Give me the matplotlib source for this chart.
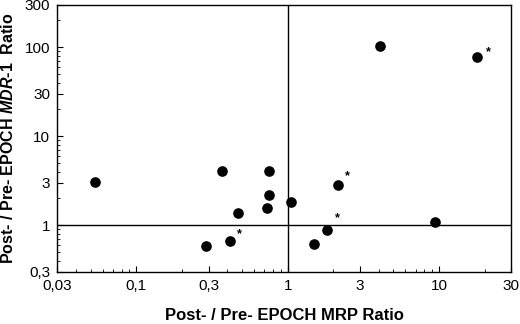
import matplotlib
matplotlib.use("Agg")
import matplotlib.pyplot as plt
from matplotlib.ticker import FixedLocator, LogLocator, NullFormatter

plt.rcParams['font.family'] = ['Liberation Sans', 'DejaVu Sans']
plt.rcParams['mathtext.fontset'] = 'custom'
plt.rcParams['mathtext.it'] = 'Liberation Sans:italic:bold'
plt.rcParams['mathtext.rm'] = 'Liberation Sans:bold'

# data: MRP ratio (x), MDR-1 ratio (y), asterisk flag
mrp_ratio = [0.0535, 0.368, 0.749, 0.757, 0.467, 0.734, 1.05, 2.14, 9.48,
             4.10, 17.9, 0.289, 0.418, 1.49, 1.83]
mdr1_ratio = [3.05, 4.02, 4.02, 2.16, 1.38, 1.57, 1.80, 2.80, 1.09,
              104, 76.8, 0.58, 0.658, 0.608, 0.874]
starred = [False, False, False, False, False, False, False, True, False,
           False, True, False, True, False, True]
star_offsets = {7: (10, 9), 10: (11, 5), 12: (9, 7), 14: (10, 12)}

x_ticks = [0.03, 0.1, 0.3, 1, 3, 10, 30]
x_tick_labels = ["0,03", "0,1", "0,3", "1", "3", "10", "30"]
y_ticks = [0.3, 1, 3, 10, 30, 100, 300]
y_tick_labels = ["0,3", "1", "3", "10", "30", "100", "300"]

fig = plt.figure(figsize=(5.2, 3.24), dpi=100)
ax = fig.add_axes([0.110, 0.1614, 0.873, 0.824])
ax.set_xscale('log')
ax.set_yscale('log')
ax.set_xlim(0.03, 30)
ax.set_ylim(0.3, 300)

ax.axvline(1, color='black', lw=1.0)
ax.axhline(1, color='black', lw=1.0)

ax.scatter(mrp_ratio, mdr1_ratio, s=44, color='black', zorder=3)
for i, (x, y, st) in enumerate(zip(mrp_ratio, mdr1_ratio, starred)):
    if st:
        dx, dy = star_offsets[i]
        ax.annotate('*', (x, y), xytext=(dx * 0.72, dy * 0.72), textcoords='offset points',
                    ha='center', va='center', fontsize=9, fontweight='bold')

ax.xaxis.set_major_locator(FixedLocator(x_ticks))
ax.set_xticklabels(x_tick_labels)
ax.yaxis.set_major_locator(FixedLocator(y_ticks))
ax.set_yticklabels(y_tick_labels)
ax.xaxis.set_minor_locator(LogLocator(base=10, subs=range(2, 10)))
ax.yaxis.set_minor_locator(LogLocator(base=10, subs=range(2, 10)))
ax.xaxis.set_minor_formatter(NullFormatter())
ax.yaxis.set_minor_formatter(NullFormatter())

ax.tick_params(which='major', direction='in', length=4, width=0.8, labelsize=11, pad=5)
ax.tick_params(which='minor', direction='in', length=2, width=0.6)
for sp in ax.spines.values():
    sp.set_linewidth(1.0)

ax.set_xlabel('Post- / Pre- EPOCH MRP Ratio', fontsize=12, fontweight='bold', labelpad=11)
ax.set_ylabel('Post- / Pre- EPOCH $\\mathit{MDR}$-$\\mathit{1}$  Ratio', fontsize=11.5,
              fontweight='bold', labelpad=6)

fig.savefig('out.png', dpi=100)
